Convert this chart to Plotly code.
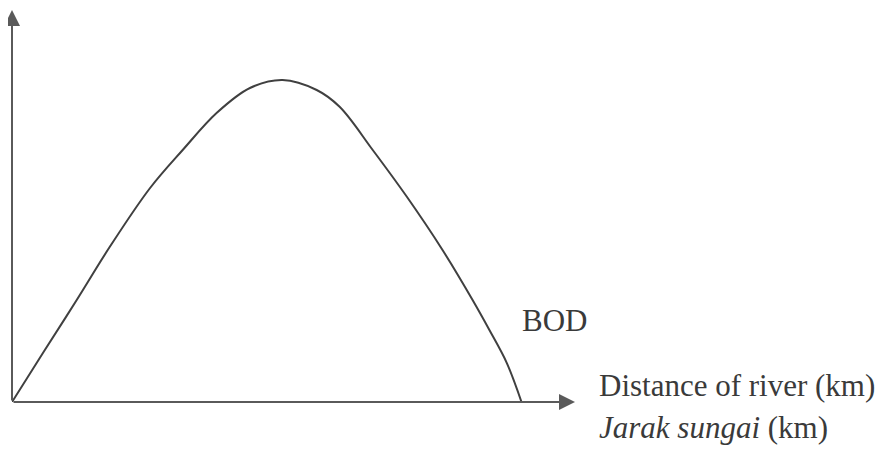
"""BOD along the river: sketch-style curve with arrowed axes."""

import plotly.graph_objects as go


# Distance along river (arbitrary km units) and BOD level
DISTANCE_KM = [0.0, 0.61, 1.27, 1.92, 2.71, 3.35, 4.02, 4.67, 5.31,
               5.98, 6.43, 7.08, 7.75, 8.45, 9.04, 9.37, 9.71, 10.0]
BOD_LEVEL = [0.0, 1.23, 2.55, 3.88, 5.35, 6.3, 7.23, 7.85, 8.05,
             7.8, 7.38, 6.3, 5.13, 3.8, 2.55, 1.8, 0.98, 0.0]

X_MAX = 11.05
Y_MAX = 9.8

CURVE_LABEL = "BOD"
X_LABEL_EN = "Distance of river (km)"
X_LABEL_MS = "<i>Jarak sungai</i> (km)"

AXIS_COLOR = "#5a5a5a"
TEXT_COLOR = "#3a3a3a"
SERIF = "Liberation Serif, Times New Roman, serif"

figure = go.Figure()

figure.add_trace(
    go.Scatter(
        x=DISTANCE_KM,
        y=BOD_LEVEL,
        mode="lines",
        line={"color": "#404040", "width": 2, "shape": "spline",
              "smoothing": 1.0},
        hoverinfo="skip",
        showlegend=False,
    )
)

# Arrowed axes
for tip_x, tip_y in [(X_MAX, 0), (0, Y_MAX)]:
    figure.add_annotation(
        x=tip_x,
        y=tip_y,
        ax=0,
        ay=0,
        xref="x",
        yref="y",
        axref="x",
        ayref="y",
        showarrow=True,
        arrowhead=2,
        arrowsize=1.6,
        arrowwidth=2,
        arrowcolor=AXIS_COLOR,
        text="",
    )

# Text labels, placed in paper units (outside the axis range)
labels = [
    (CURVE_LABEL, 0.902, 0.207),
    (X_LABEL_EN, 1.039, 0.041),
    (X_LABEL_MS, 1.039, -0.064),
]

for label, x_pos, y_pos in labels:
    figure.add_annotation(
        x=x_pos,
        y=y_pos,
        xref="paper",
        yref="paper",
        text=label,
        showarrow=False,
        xanchor="left",
        yanchor="middle",
        font={"family": SERIF, "size": 31, "color": TEXT_COLOR},
    )

figure.update_xaxes(
    range=[0, X_MAX],
    visible=False,
    fixedrange=True,
)

figure.update_yaxes(
    range=[0, Y_MAX],
    visible=False,
    fixedrange=True,
)

figure.update_layout(
    width=885,
    height=450,
    margin={"l": 4, "r": 318, "t": 2, "b": 56, "pad": 0,
            "autoexpand": False},
    plot_bgcolor="white",
    paper_bgcolor="white",
    showlegend=False,
)

figure.write_html("out.html")
